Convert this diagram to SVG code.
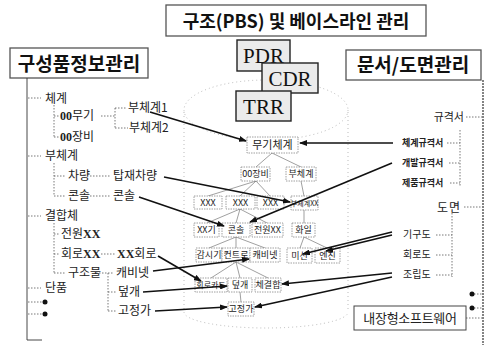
<svg xmlns="http://www.w3.org/2000/svg" width="488" height="345" viewBox="0 0 488 345">
<defs>
<marker id="ah" markerWidth="8" markerHeight="6" refX="7" refY="3" orient="auto" markerUnits="userSpaceOnUse"><path d="M0,0 L8,3 L0,6 z" fill="#111"/></marker>
<style>
.h{font-family:"Noto Sans CJK KR","Noto Sans",sans-serif;font-weight:bold;font-size:18px;fill:#111}
.hb{fill:#fff;stroke:#555;stroke-width:1.3}
.t{font-family:"Noto Sans CJK KR",sans-serif;font-size:12px;fill:#222}
.s{font-family:"Noto Sans CJK KR",sans-serif;font-size:9px;fill:#222;font-weight:bold}
.m{font-family:"Noto Sans CJK KR",sans-serif;font-size:10px;fill:#222}
.n{font-family:"Noto Sans CJK KR",sans-serif;font-size:9px;fill:#222;text-anchor:middle}
.nb{fill:#fff;stroke:#888;stroke-width:0.8;stroke-dasharray:1.5 1}
.rb{fill:#ebebeb;stroke:#222;stroke-width:1.4}
.r{font-family:"Liberation Serif",serif;font-size:21px;fill:#111;text-anchor:middle}
.x{font-family:"Liberation Serif",serif;font-weight:bold}
.tl{fill:none;stroke:#333;stroke-width:0.9}
.dl{fill:none;stroke:#555;stroke-width:0.8;stroke-dasharray:1.5 1.5}
.cy{fill:none;stroke:#aaa;stroke-width:0.8;stroke-dasharray:1 3}
.ar{fill:none;stroke:#111;stroke-width:1.6;marker-end:url(#ah)}
.il{fill:none;stroke:#777;stroke-width:0.7}
</style>
</defs>
<rect width="488" height="345" fill="#fff"/>

<g id="cylinder">
<ellipse class="cy" cx="266" cy="110" rx="82" ry="30"/>
<path class="cy" d="M184,112 V312 M348,112 V312 M184,312 A82,16 0 0 0 348,312"/>
</g>

<g id="title"><rect class="hb" x="166" y="5" width="260" height="31"/><text class="h" x="296" y="28" text-anchor="middle">구조(PBS) 및 베이스라인 관리</text></g>
<g id="left-header"><rect class="hb" x="10" y="48" width="138" height="30"/><text class="h" x="79" y="71" text-anchor="middle" style="font-size:19px">구성품정보관리</text></g>
<g id="right-header"><rect class="hb" x="346" y="50" width="135" height="30"/><text class="h" x="413" y="72" text-anchor="middle" style="font-size:19px">문서/도면관리</text></g>

<g id="pdr"><rect class="rb" x="237" y="40" width="53" height="31"/><text class="r" x="263.5" y="63">PDR</text></g>
<g id="cdr"><rect class="rb" x="262" y="63" width="56" height="30"/><text class="r" x="290" y="86">CDR</text></g>
<g id="trr"><rect class="rb" x="236" y="91" width="55" height="30"/><text class="r" x="263.5" y="114">TRR</text></g>

<g id="inner-lines">
<path class="il" d="M272,153 L256,167 M272,153 L301,167 M256,181 L208,196 M256,181 L240,196 M256,181 L270,196 M301,181 L304,196 M240,209 L207,223 M240,209 L236,223 M240,209 L267,223 M304,210 L304,223 M236,237 L209,248 M236,237 L236,248 M236,237 L265,248 M304,237 L300,248 M304,237 L327,248 M236,262 L211,278 M236,262 L240,278 M236,262 L268,278 M240,292 L241,302"/>
</g>

<g id="n-muki"><rect class="nb" x="247" y="137" width="51" height="16"/><text class="n" x="272.5" y="149" style="font-size:11px">무기체계</text></g>
<g id="n-00jangbi"><rect class="nb" x="241" y="167" width="29" height="14"/><text class="n" x="255.5" y="177">00장비</text></g>
<g id="n-buchegye"><rect class="nb" x="286" y="167" width="30" height="14"/><text class="n" x="301" y="177">부체계</text></g>
<g id="n-xxx1"><rect class="nb" x="194" y="196" width="28" height="13"/><text class="n" x="208" y="206">XXX</text></g>
<g id="n-xxx2"><rect class="nb" x="226" y="196" width="29" height="13"/><text class="n" x="240.5" y="206">XXX</text></g>
<g id="n-xxx3"><rect class="nb" x="257" y="196" width="27" height="13"/><text class="n" x="270.5" y="206">XXX</text></g>
<g id="n-bucheXX"><rect class="nb" x="291" y="196" width="27" height="14"/><text class="n" x="304.5" y="206" style="font-size:7px">부체계XX</text></g>
<g id="n-xxgi"><rect class="nb" x="194" y="223" width="25" height="14"/><text class="n" x="206.5" y="233">XX기</text></g>
<g id="n-console"><rect class="nb" x="222" y="223" width="28" height="14"/><text class="n" x="236" y="233">콘솔</text></g>
<g id="n-jeonwon"><rect class="nb" x="252" y="223" width="31" height="14"/><text class="n" x="267.5" y="233">전원XX</text></g>
<g id="n-hwail"><rect class="nb" x="292" y="223" width="23" height="14"/><text class="n" x="303.5" y="233">화일</text></g>
<g id="n-gamsi"><rect class="nb" x="196" y="248" width="26" height="14"/><text class="n" x="209" y="258">감시기</text></g>
<g id="n-control"><rect class="nb" x="222" y="248" width="28" height="14"/><text class="n" x="236" y="258">컨트로</text></g>
<g id="n-cabinet"><rect class="nb" x="250" y="248" width="30" height="14"/><text class="n" x="265" y="258">캐비넷</text></g>
<g id="n-mission"><rect class="nb" x="287" y="248" width="25" height="15"/><text class="n" x="299.5" y="259">미션</text></g>
<g id="n-engine"><rect class="nb" x="315" y="248" width="25" height="15"/><text class="n" x="327.5" y="259">엔진</text></g>
<g id="n-circuit"><rect class="nb" x="195" y="278" width="32" height="14"/><text class="n" x="211" y="288" style="font-size:8px">회로카드</text></g>
<g id="n-cover"><rect class="nb" x="228" y="278" width="24" height="14"/><text class="n" x="240" y="288">덮개</text></g>
<g id="n-fasten"><rect class="nb" x="255" y="278" width="26" height="14"/><text class="n" x="268" y="288">체결합</text></g>
<g id="n-fixture"><rect class="nb" x="228" y="302" width="26" height="14"/><text class="n" x="241" y="312">고정가</text></g>

<g id="left-tree">
<path class="tl" d="M27,78 V340 H42"/>
<path class="dl" d="M28,98 H41 M54,105 V137 M54,116 H60 M54,137 H60 M101,116 H115 M115,108 V128 M115,108 H127 M115,128 H128 M28,156 H41 M54,163 V196 M54,176 H66 M54,196 H66 M90,176 H111 M90,196 H111 M28,216 H41 M54,223 V273 M54,234 H60 M54,254 H60 M54,273 H66 M101,254 H116 M96,273 H113 M108,273 V311 M108,292 H116 M108,311 H116 M28,288 H41 M28,302 H43 M28,314 H43"/>
<circle cx="45" cy="302" r="2.5" fill="#111"/><circle cx="45" cy="314" r="2.5" fill="#111"/>
<text class="t" x="45" y="103">체계</text>
<text class="t" x="60" y="120"><tspan class="x">00</tspan>무기</text>
<text class="t" x="60" y="141"><tspan class="x">00</tspan>장비</text>
<text class="t" x="128" y="112">부체계1</text>
<text class="t" x="129" y="132">부체계2</text>
<text class="t" x="45" y="160">부체계</text>
<text class="t" x="68" y="180">차량</text>
<text class="t" x="113" y="180">탑재차량</text>
<text class="t" x="68" y="200">콘솔</text>
<text class="t" x="113" y="200">콘솔</text>
<text class="t" x="45" y="220">결합체</text>
<text class="t" x="61" y="238">전원<tspan class="x">XX</tspan></text>
<text class="t" x="61" y="258">회로<tspan class="x">XX</tspan></text>
<text class="t" x="117" y="258"><tspan class="x">XX</tspan>회로</text>
<text class="t" x="68" y="277">구조물</text>
<text class="t" x="116" y="277">캐비넷</text>
<text class="t" x="45" y="292">단품</text>
<text class="t" x="118" y="296">덮개</text>
<text class="t" x="118" y="315">고정가</text>
</g>

<g id="right-tree">
<path d="M483,80 V345" fill="none" stroke="#333" stroke-width="1.2" stroke-dasharray="2 1"/>
<path class="dl" d="M466,117 H482 M447,143 H460 M460,130 V186 M449,163 H460 M450,183 H460 M464,207 H482 M452,213 V277 M436,235 H452 M436,255 H452 M436,275 H452 M474,294 H482 M474,308 H482 M466,318 H482"/>
<circle cx="472" cy="294" r="2.5" fill="#111"/><circle cx="472" cy="308" r="2.5" fill="#111"/>
<text class="m" x="464" y="121" text-anchor="end" style="font-size:11px">규격서</text>
<text class="s" x="402" y="146">체계규격서</text>
<text class="s" x="402" y="166">개발규격서</text>
<text class="s" x="402" y="186">제품규격서</text>
<text class="t" x="437" y="212" letter-spacing="1">도면</text>
<text class="m" x="403" y="238">기구도</text>
<text class="m" x="403" y="258">회로도</text>
<text class="m" x="403" y="278">조립도</text>
</g>
<g id="software"><rect class="hb" x="354" y="306" width="112" height="24" style="stroke:#444;stroke-width:1"/><text class="t" x="410" y="323" text-anchor="middle" style="font-size:13px" letter-spacing="-0.3">내장형소프트웨어</text></g>

<g id="connectors">
<path class="ar" d="M150,112 L246,141"/>
<path class="ar" d="M393,143 L300,143"/>
<path class="ar" d="M164,177 L290,202"/>
<path class="ar" d="M139,197 L224,226"/>
<path class="ar" d="M392,163 L250,222"/>
<path class="ar" d="M158,256 L201,281"/>
<path class="ar" d="M153,271 L249,259"/>
<path class="ar" d="M143,292 L227,286"/>
<path class="ar" d="M155,311 L227,307"/>
<path class="ar" d="M392,232 L303,254"/>
<path class="ar" d="M392,235 L326,251"/>
<path class="ar" d="M392,273 L282,284"/>
<path class="ar" d="M392,277 L255,307"/>
</g>
</svg>
